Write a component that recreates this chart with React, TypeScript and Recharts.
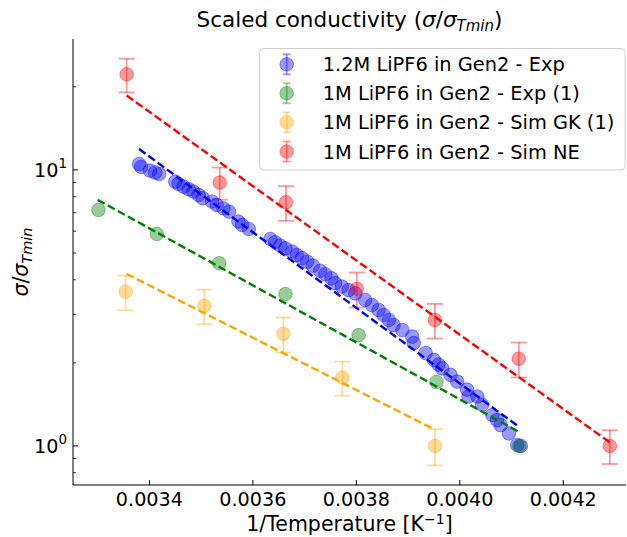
import React from 'react';
import { ScatterChart, Scatter, XAxis, YAxis, ErrorBar } from 'recharts';

const FONT = '"DejaVu Sans", sans-serif';

const seriesNames = [
  '1.2M LiPF6 in Gen2 - Exp',
  '1M LiPF6 in Gen2 - Exp (1)',
  '1M LiPF6 in Gen2 - Sim GK (1)',
  '1M LiPF6 in Gen2 - Sim NE',
];
const seriesColors = ['#0000ff', '#008000', '#ffa500', '#ff0000'];

// 1.2M LiPF6 in Gen2 - Exp
const expX = [0.00338, 0.003384, 0.003401, 0.003411, 0.003419, 0.00345, 0.003456, 0.003466, 0.003476, 0.003485,
  0.003495, 0.003503, 0.003521, 0.00353, 0.003543, 0.003554, 0.003572, 0.003579, 0.003592, 0.003634,
  0.003643, 0.003653, 0.003663, 0.003676, 0.003685, 0.003695, 0.003705, 0.003716, 0.00373, 0.00374,
  0.003752, 0.003759, 0.003772, 0.003785, 0.003798, 0.003817, 0.00383, 0.003843, 0.003853, 0.003863,
  0.003872, 0.003889, 0.003908, 0.003911, 0.003934, 0.00395, 0.003959, 0.003966, 0.003982, 0.003995,
  0.004014, 0.004017, 0.004034, 0.004043, 0.004063, 0.004072, 0.004079, 0.004095, 0.004111, 0.004118];
const expY = [10.51, 10.25, 9.94, 9.78, 9.67, 9.07, 8.9, 8.7, 8.51, 8.35,
  8.12, 7.9, 7.68, 7.47, 7.26, 7.06, 6.5, 6.32, 6.11, 5.62,
  5.47, 5.32, 5.2, 5.06, 4.92, 4.79, 4.65, 4.5, 4.31, 4.19,
  4.05, 3.89, 3.78, 3.67, 3.57, 3.38, 3.24, 3.11, 2.98, 2.86,
  2.74, 2.63, 2.49, 2.36, 2.17, 2.05, 1.97, 1.91, 1.81, 1.71,
  1.6, 1.51, 1.51, 1.41, 1.295, 1.24, 1.19, 1.11, 1.008, 1.0];

// 1M LiPF6 in Gen2 - Exp (1)
const exp1X = [0.0033015, 0.0034143, 0.003535, 0.003663, 0.0038045, 0.003955, 0.004115];
const exp1Y = [7.16, 5.86, 4.59, 3.55, 2.52, 1.705, 1.0];
const exp1Err = [0, 0, 0, 0, 0, 0, 0];

// 1M LiPF6 in Gen2 - Sim GK (1)
const gkX = [0.003354, 0.003506, 0.003659, 0.003773, 0.003952];
const gkY = [3.62, 3.22, 2.55, 1.77, 1.0];
const gkErr = [0.52, 0.46, 0.37, 0.25, 0.15];

// 1M LiPF6 in Gen2 - Sim NE
const neX = [0.003356, 0.003536, 0.003664, 0.003801, 0.003952, 0.004114, 0.00429];
const neY = [22.2, 9.0, 7.64, 3.71, 2.86, 2.07, 1.0];
const neErr = [3.1, 1.2, 1.1, 0.54, 0.41, 0.3, 0.14];

// dashed fits (end points)
const fitExpX = [0.00338, 0.004114];
const fitExpY = [11.9, 1.175];
const fitExp1X = [0.0033, 0.004117];
const fitExp1Y = [7.79, 1.117];
const fitGkX = [0.003356, 0.00395];
const fitGkY = [4.2, 1.15];
const fitNeX = [0.003356, 0.00429];
const fitNeY = [18.6, 1.03];

const xTicks = [0.0034, 0.0036, 0.0038, 0.004, 0.0042];
const yTicks = [0.8, 0.9, 1, 2, 3, 4, 5, 6, 7, 8, 9, 10, 20];
const yMajor = [1, 10];
const yMajorLabels = ['0', '1'];
const xDomain = [0.0032523, 0.0043213];
const yDomain = [0.722, 29.8];

const build = (xs: number[], ys: number[], errs?: number[]) =>
  xs.map((x, i) => ({ x, y: ys[i], err: errs ? errs[i] : 0 }));

const expData = build(expX, expY);
const exp1Data = build(exp1X, exp1Y, exp1Err);
const gkData = build(gkX, gkY, gkErr);
const neData = build(neX, neY, neErr);

const W = 627;
const H = 537;
const PL = 73;
const PT = 39;
const PR = 626;
const PB = 485;

const dot = (color: string) => (props: any) => {
  const { cx, cy } = props;
  if (cx == null || cy == null) return <g />;
  return (
    <circle cx={cx} cy={cy} r={6.8} fill={color} fillOpacity={0.4} stroke={color} strokeOpacity={0.4} strokeWidth={1} />
  );
};
const noDot = () => <g />;

const XTick = (props: any) => {
  const { x, y, payload } = props;
  return (
    <g>
      <line x1={x} x2={x} y1={y} y2={y - 5} stroke="#000" strokeWidth={1} />
      <text x={x} y={y + 21} textAnchor="middle" fontSize={19.2} fontFamily={FONT} fill="#000">
        {Number(payload.value).toFixed(4)}
      </text>
    </g>
  );
};

const YTick = (props: any) => {
  const { x, y, payload } = props;
  const v = Number(payload.value);
  const idx = yMajor.findIndex((m) => Math.abs(m - v) < 1e-9);
  if (idx < 0) {
    return <line x1={x} x2={x + 3} y1={y} y2={y} stroke="#000" strokeWidth={0.8} />;
  }
  return (
    <g>
      <line x1={x} x2={x + 5} y1={y} y2={y} stroke="#000" strokeWidth={1} />
      <text x={x - 6} y={y + 7} textAnchor="end" fontSize={19.2} fontFamily={FONT} fill="#000">
        10
        <tspan fontSize={13.5} dy={-9}>{yMajorLabels[idx]}</tspan>
      </text>
    </g>
  );
};

const dash = '8 3.5';
const fitW = 2.4;

export default function App() {
  const legendRows = [64.3, 93.3, 122.3, 151.5];
  return (
    <div style={{ position: 'absolute', left: 0, top: 0, width: W, height: H, background: '#fff', overflow: 'hidden' }}>
      <ScatterChart width={W} height={H} margin={{ top: PT, right: W - PR, bottom: 0, left: 0 }}>
        <XAxis
          xAxisId="top"
          orientation="top"
          type="number"
          dataKey="x"
          domain={xDomain}
          allowDataOverflow
          height={0}
          tick={false}
          tickLine={false}
          axisLine={{ stroke: '#000', strokeWidth: 1 }}
        />
        <XAxis
          type="number"
          dataKey="x"
          domain={xDomain}
          allowDataOverflow
          ticks={xTicks}
          height={H - PB}
          tickSize={0}
          tickMargin={0}
          tickLine={false}
          tick={<XTick />}
          axisLine={{ stroke: '#000', strokeWidth: 1 }}
          interval={0}
        />
        <YAxis
          type="number"
          dataKey="y"
          scale="log"
          domain={yDomain}
          allowDataOverflow
          ticks={yTicks}
          width={PL}
          tickSize={0}
          tickMargin={0}
          tickLine={false}
          tick={<YTick />}
          axisLine={{ stroke: '#000', strokeWidth: 1 }}
          interval={0}
        />
        <Scatter data={expData} shape={dot(seriesColors[0])} isAnimationActive={false} />
        <Scatter data={exp1Data} shape={dot(seriesColors[1])} isAnimationActive={false}>
          <ErrorBar dataKey="err" direction="y" width={8} stroke="rgba(0,128,0,0.6)" strokeWidth={1.8} isAnimationActive={false} />
        </Scatter>
        <Scatter data={gkData} shape={dot(seriesColors[2])} isAnimationActive={false}>
          <ErrorBar dataKey="err" direction="y" width={8} stroke="rgba(255,165,0,0.4)" strokeWidth={1.8} isAnimationActive={false} />
        </Scatter>
        <Scatter data={neData} shape={dot(seriesColors[3])} isAnimationActive={false}>
          <ErrorBar dataKey="err" direction="y" width={8} stroke="rgba(255,0,0,0.4)" strokeWidth={1.8} isAnimationActive={false} />
        </Scatter>
        <Scatter data={build(fitNeX, fitNeY)} shape={noDot} line={{ stroke: seriesColors[3], strokeWidth: fitW, strokeDasharray: dash }} isAnimationActive={false} />
        <Scatter data={build(fitExp1X, fitExp1Y)} shape={noDot} line={{ stroke: seriesColors[1], strokeWidth: fitW, strokeDasharray: dash }} isAnimationActive={false} />
        <Scatter data={build(fitGkX, fitGkY)} shape={noDot} line={{ stroke: seriesColors[2], strokeWidth: fitW, strokeDasharray: dash }} isAnimationActive={false} />
        <Scatter data={build(fitExpX, fitExpY)} shape={noDot} line={{ stroke: seriesColors[0], strokeWidth: fitW, strokeDasharray: dash }} isAnimationActive={false} />
      </ScatterChart>
      <svg width={W} height={H} style={{ position: 'absolute', left: 0, top: 0, pointerEvents: 'none' }}>
        <text x={(PL + PR) / 2} y={27} textAnchor="middle" fontSize={21.5} fontFamily={FONT} fill="#000">
          Scaled conductivity (<tspan fontStyle="italic">σ</tspan>/<tspan fontStyle="italic">σ</tspan>
          <tspan fontStyle="italic" fontSize={15} dy={4}>Tmin</tspan>
          <tspan dy={-4}>)</tspan>
        </text>
        <text x={(PL + PR) / 2} y={531} textAnchor="middle" fontSize={20.5} fontFamily={FONT} fill="#000">
          1/Temperature [K<tspan fontSize={14} dy={-7}>−1</tspan>
          <tspan dy={7}>]</tspan>
        </text>
        <text transform={`translate(28, ${(PT + PB) / 2}) rotate(-90)`} textAnchor="middle" fontSize={20.5} fontFamily={FONT} fill="#000">
          <tspan fontStyle="italic">σ</tspan>/<tspan fontStyle="italic">σ</tspan>
          <tspan fontStyle="italic" fontSize={14.5} dy={4}>Tmin</tspan>
        </text>
        <rect x={259.5} y={48.5} width={365.5} height={121.5} rx={4} fill="#fff" fillOpacity={0.8} stroke="#d0d0d0" strokeWidth={1} />
        {seriesNames.map((name, i) => {
          const cy = legendRows[i];
          const c = seriesColors[i];
          return (
            <g key={name}>
              <line x1={286.7} x2={286.7} y1={cy - 10} y2={cy + 10} stroke={c} strokeOpacity={0.4} strokeWidth={1.8} />
              <line x1={282.7} x2={290.7} y1={cy - 10} y2={cy - 10} stroke={c} strokeOpacity={0.4} strokeWidth={1.8} />
              <line x1={282.7} x2={290.7} y1={cy + 10} y2={cy + 10} stroke={c} strokeOpacity={0.4} strokeWidth={1.8} />
              <circle cx={286.7} cy={cy} r={6.8} fill={c} fillOpacity={0.4} stroke={c} strokeOpacity={0.4} strokeWidth={1} />
              <text x={322.7} y={cy + 7} fontSize={19.4} fontFamily={FONT} fill="#000">{name}</text>
            </g>
          );
        })}
      </svg>
    </div>
  );
}
